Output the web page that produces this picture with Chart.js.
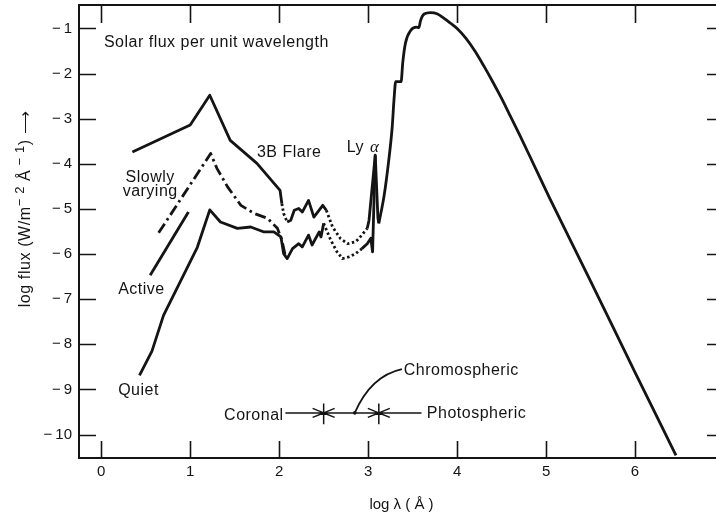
<!DOCTYPE html>
<html>
<head>
<meta charset="utf-8">
<script src="https://cdn.jsdelivr.net/npm/chart.js@4.4.1/dist/chart.umd.min.js"></script>
<style>
  html, body { margin: 0; padding: 0; background: #fff; overflow: hidden; }
  #wrap { position: absolute; left: 0; top: 0; width: 728px; height: 518px; }
</style>
</head>
<body>
<div id="wrap"><canvas id="fluxChart" width="728" height="518"></canvas></div>
<script>
// Solar spectral irradiance vs wavelength, log-log.
var xTicks = [0, 1, 2, 3, 4, 5, 6];
var yTicks = [-1, -2, -3, -4, -5, -6, -7, -8, -9, -10];

// 3B flare (upper short-wave curve, continues through the EUV to Ly alpha)
var flareLogLambda = [0.35, 1.00, 1.22, 1.45, 1.75, 2.01, 2.03, 2.05, 2.09, 2.13, 2.17, 2.22, 2.26, 2.33, 2.39, 2.49, 2.53, 2.60, 2.69, 2.77, 2.86, 2.93, 2.99, 3.01, 3.08, 3.11, 3.12];
var flareLogFlux = [-3.74, -3.14, -2.48, -3.48, -3.99, -4.59, -4.88, -5.10, -5.29, -5.25, -5.03, -4.99, -5.07, -4.81, -5.18, -4.92, -5.03, -5.40, -5.66, -5.77, -5.73, -5.58, -5.43, -5.25, -3.81, -5.20, -5.32];

// quiet sun (lower curve)
var quietLogLambda = [0.43, 0.57, 0.70, 1.08, 1.22, 1.34, 1.53, 1.68, 1.83, 1.94, 2.02, 2.05, 2.09, 2.15, 2.22, 2.26, 2.33, 2.37, 2.45, 2.47, 2.50, 2.58, 2.65, 2.71, 2.79, 2.86, 2.93, 2.99, 3.03, 3.05, 3.08];
var quietLogFlux = [-8.69, -8.15, -7.36, -5.85, -5.02, -5.29, -5.43, -5.40, -5.51, -5.51, -5.62, -5.99, -6.10, -5.88, -5.77, -5.84, -5.58, -5.80, -5.51, -5.62, -5.32, -5.69, -5.95, -6.10, -6.06, -5.99, -5.88, -5.77, -5.65, -5.95, -3.81];

// slowly varying component
var slowLogLambda = [0.645, 1.23, 1.30, 1.42, 1.57, 1.72, 1.87, 1.98, 2.03, 2.07];
var slowLogFlux = [-5.53, -3.77, -4.10, -4.51, -4.92, -5.10, -5.21, -5.43, -5.69, -6.05];

// active sun
var activeLogLambda = [0.55, 0.98];
var activeLogFlux = [-6.47, -5.07];

// photospheric continuum
var photoLogLambda = [3.12, 3.18, 3.23, 3.27, 3.29, 3.31, 3.37, 3.39, 3.42, 3.48, 3.54, 3.57, 3.59, 3.63, 3.70, 3.78, 3.85, 3.93, 4.00, 4.10, 4.20, 4.30, 4.40, 4.50, 4.60, 4.70, 4.80, 5.04, 5.50, 6.00, 6.46];
var photoLogFlux = [-5.32, -4.70, -3.95, -3.20, -2.60, -2.18, -2.18, -1.74, -1.32, -1.04, -0.97, -0.98, -0.82, -0.68, -0.65, -0.68, -0.77, -0.89, -1.00, -1.22, -1.50, -1.83, -2.18, -2.55, -2.95, -3.35, -3.76, -4.76, -6.60, -8.62, -10.46];

var INK = '#141414';
var FONT = '"Liberation Sans", Arial, sans-serif';
var LINE_W = 2.8;
var DOTS = [2.4, 2.6];
// stretches of log lambda drawn dotted
var FLARE_DOTTED = [[2.02, 2.12], [2.52, 3.0]];
var QUIET_DOTTED = [[2.49, 2.94]];

function pts(xs, ys) {
  return xs.map(function (x, i) { return { x: x, y: ys[i] }; });
}

function dotted(ranges) {
  return function (ctx) {
    var a = ctx.p0.parsed.x, b = ctx.p1.parsed.x;
    for (var i = 0; i < ranges.length; i++) {
      if (a >= ranges[i][0] && b <= ranges[i][1]) return DOTS;
    }
    return undefined;
  };
}

function curve(label, xs, ys, extra) {
  var ds = {
    label: label,
    data: pts(xs, ys),
    borderColor: INK,
    borderWidth: LINE_W,
    borderJoinStyle: 'round',
    pointRadius: 0,
    fill: false,
    tension: 0
  };
  Object.keys(extra || {}).forEach(function (k) { ds[k] = extra[k]; });
  return ds;
}

// inward tick marks on all four sides plus the frame
var framePlugin = {
  id: 'frame',
  beforeDatasetsDraw: function (chart) {
    var c = chart.ctx, a = chart.chartArea;
    var xs = chart.scales.x, ys = chart.scales.y;
    c.save();
    c.strokeStyle = INK;
    c.lineWidth = 2;
    c.beginPath();
    c.moveTo(a.right, a.top); c.lineTo(a.left, a.top);
    c.lineTo(a.left, a.bottom); c.lineTo(a.right, a.bottom);
    c.stroke();
    c.lineWidth = 1.6;
    c.beginPath();
    xTicks.forEach(function (v) {
      var px = Math.round(xs.getPixelForValue(v)) + 0.5;
      c.moveTo(px, a.bottom); c.lineTo(px, a.bottom - 17);
      c.moveTo(px, a.top); c.lineTo(px, a.top + 18);
    });
    yTicks.forEach(function (v) {
      var py = Math.round(ys.getPixelForValue(v)) + 0.5;
      c.moveTo(a.left, py); c.lineTo(a.left + 17, py);
      c.moveTo(a.right, py); c.lineTo(a.right - 17, py);
    });
    c.stroke();
    c.restore();
  }
};

function openHead(c, x, y, dir) {
  // chevron with its point at (x, y); dir = 1 points right, -1 left
  c.moveTo(x - dir * 11, y - 4.5);
  c.lineTo(x, y);
  c.lineTo(x - dir * 11, y + 4.5);
}

var notesPlugin = {
  id: 'notes',
  afterDatasetsDraw: function (chart) {
    var c = chart.ctx;
    var xs = chart.scales.x, ys = chart.scales.y;
    function X(v) { return xs.getPixelForValue(v); }
    function Y(v) { return ys.getPixelForValue(v); }
    function text(s, x, y, align) {
      c.textAlign = align || 'left';
      c.fillText(s, X(x), Y(y));
    }
    c.save();
    c.fillStyle = INK;
    c.strokeStyle = INK;
    c.font = '16px ' + FONT;
    c.textBaseline = 'alphabetic';
    if ('letterSpacing' in c) c.letterSpacing = '0.5px';

    text('Solar flux per unit wavelength', 0.03, -1.41);
    text('3B Flare', 1.75, -3.85);
    text('Ly', 2.76, -3.74);
    text('Slowly', 0.55, -4.40, 'center');
    text('varying', 0.55, -4.72, 'center');
    text('Active', 0.19, -6.88);
    text('Quiet', 0.19, -9.12);
    text('Coronal', 2.05, -9.67, 'right');
    text('Chromospheric', 3.40, -8.67);
    text('Photospheric', 3.66, -9.63);

    c.font = 'italic 17px "Liberation Serif", serif';
    text('α', 3.02, -3.74);

    // region markers along log lambda
    var yb = Y(-9.52);
    var b1 = X(2.5), b2 = X(3.12);
    c.lineWidth = 1.5;
    c.beginPath();
    c.moveTo(X(2.07), yb); c.lineTo(X(3.60), yb);
    c.moveTo(b1, Y(-9.31)); c.lineTo(b1, Y(-9.77));
    c.moveTo(b2, Y(-9.31)); c.lineTo(b2, Y(-9.77));
    openHead(c, b1, yb, 1);
    openHead(c, b1, yb, -1);
    openHead(c, b2, yb, 1);
    openHead(c, b2, yb, -1);
    c.stroke();

    // leader from the chromospheric band to its label
    c.lineWidth = 1.8;
    c.beginPath();
    c.moveTo(X(2.85), yb);
    c.quadraticCurveTo(X(3.03), Y(-8.70), X(3.38), Y(-8.55));
    c.stroke();
    c.beginPath();
    c.arc(X(2.85), yb, 1.8, 0, Math.PI * 2);
    c.fill();

    c.restore();
  },
  afterDraw: function (chart) {
    // rotated y-axis title with raised exponents
    var c = chart.ctx;
    var parts = [
      { t: 'log flux (W/m', sup: false },
      { t: '\u2212 2', sup: true },
      { t: ' Å', sup: false },
      { t: ' \u2212 1', sup: true },
      { t: ')', sup: false },
      { t: ' \u27F6', sup: false }
    ];
    c.save();
    c.fillStyle = INK;
    c.textBaseline = 'alphabetic';
    c.textAlign = 'left';
    if ('letterSpacing' in c) c.letterSpacing = '0.6px';
    function fontFor(p) { return (p.sup ? '13px ' : '16px ') + FONT; }
    var total = 0;
    parts.forEach(function (p) { c.font = fontFor(p); p.w = c.measureText(p.t).width; total += p.w; });
    c.translate(30, 209);
    c.rotate(-Math.PI / 2);
    var x = -total / 2;
    parts.forEach(function (p) {
      c.font = fontFor(p);
      c.fillText(p.t, x, p.sup ? -6 : 0);
      x += p.w;
    });
    c.restore();
  }
};

new Chart(document.getElementById('fluxChart'), {
  type: 'line',
  data: {
    datasets: [
      curve('3B Flare', flareLogLambda, flareLogFlux, { segment: { borderDash: dotted(FLARE_DOTTED) } }),
      curve('Quiet', quietLogLambda, quietLogFlux, { segment: { borderDash: dotted(QUIET_DOTTED) } }),
      curve('Slowly varying', slowLogLambda, slowLogFlux, { borderDash: [11, 4, 2.5, 4] }),
      curve('Active', activeLogLambda, activeLogFlux),
      curve('Photospheric', photoLogLambda, photoLogFlux, { cubicInterpolationMode: 'monotone' })
    ]
  },
  options: {
    responsive: false,
    animation: false,
    devicePixelRatio: 1,
    layout: { padding: { top: 5, right: 4, left: 0, bottom: 0 } },
    plugins: { legend: { display: false }, tooltip: { enabled: false } },
    scales: {
      x: {
        type: 'linear',
        min: -0.25,
        max: 7.0,
        afterBuildTicks: function (s) { s.ticks = xTicks.map(function (v) { return { value: v }; }); },
        afterFit: function (s) { s.height = 60; s.paddingLeft = 0; s.paddingRight = 0; },
        grid: { display: false, drawTicks: false },
        border: { display: false },
        ticks: { color: INK, font: { family: FONT, size: 15 }, padding: 5, maxRotation: 0 },
        title: {
          display: true,
          text: 'log λ ( Å )',
          color: INK,
          font: { family: FONT, size: 15 },
          padding: { top: 0, bottom: 4 }
        }
      },
      y: {
        type: 'linear',
        min: -10.52,
        max: -0.48,
        afterBuildTicks: function (s) { s.ticks = yTicks.map(function (v) { return { value: v }; }); },
        afterFit: function (s) { s.width = 79; s.paddingTop = 0; s.paddingBottom = 0; },
        grid: { display: false, drawTicks: false },
        border: { display: false },
        ticks: {
          color: INK,
          font: { family: FONT, size: 15 },
          padding: 7,
          callback: function (v) { return '\u2212\u2009' + Math.abs(v); }
        }
      }
    }
  },
  plugins: [framePlugin, notesPlugin]
});
</script>
</body>
</html>
